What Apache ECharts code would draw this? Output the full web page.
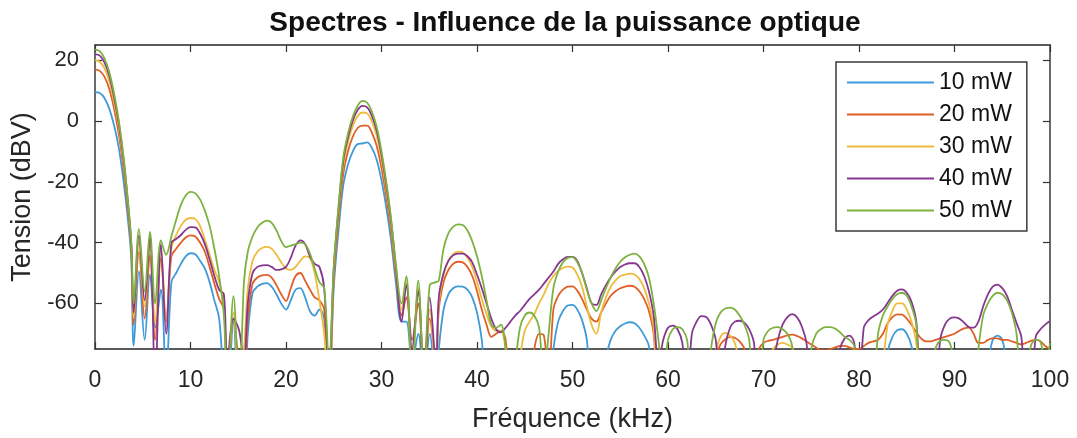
<!DOCTYPE html>
<html><head><meta charset="utf-8">
<script src="https://cdn.jsdelivr.net/npm/echarts@6/dist/echarts.min.js"></script>
<style>html,body{margin:0;padding:0;background:#fff}#c{width:1077px;height:438px}</style>
</head><body><div id="c"></div>
<script>
// Frequency grid (kHz)
const freq = [
 0,0.5,1,1.5,2,2.5,3,3.5,3.8,
 4.05,4.6,5.2,5.75,6.3,6.9,7.45,
 8,8.5,9,9.5,10,10.5,11,11.5,12,12.5,13,13.5,
 13.85,14.5,15.1,15.6,
 16,16.5,17,17.5,18,18.5,19,19.5,20,20.5,21,21.5,22,22.5,23,23.5,24,24.5,25,25.5,26,26.5,27,27.5,28,28.5,29,29.5,30,30.5,31,31.5,
 32.1,32.6,33.2,33.85,34.45,35.05,35.7,
 36,36.5,37,37.5,38,38.5,39,39.5,40,40.5,
 41,41.5,42,42.5,43,43.5,44,44.5,45,45.5,
 46,46.5,47,47.5,48,48.5,49,49.5,50,50.5,
 51,51.5,52,52.5,53,53.5,54,54.5,55,55.5,
 56,56.5,57,57.5,58,58.5,59,59.5,60,60.5,
 61,61.5,62,62.5,63,63.5,64,64.5,65,65.5,
 66,66.5,67,67.5,68,68.5,69,69.5,70,70.5,
 71,71.5,72,72.5,73,73.5,74,74.5,75,75.5,
 76,76.5,77,77.5,78,78.5,79,79.5,80,80.5,
 81,81.5,82,82.5,83,83.5,84,84.5,85,85.5,
 86,86.5,87,87.5,88,88.5,89,89.5,90,90.5,
 91,91.5,92,92.5,93,93.5,94,94.5,95,95.5,
 96,96.5,97,97.5,98,98.5,99,99.5,100
];
// Spectra (dBV); values below -75 fall outside the axis
const mw10 = [
 9.5,9.2,7.5,4,-1.5,-9,-20,-34,-45.3,
 -74,-49.4,-72,-50.5,-68,-55.5,-85,
 -53,-50,-47,-44.5,-43.5,-43.8,-46,-48.5,-53,-59,-65,-85,
 -90,-66,-90,-90,
 -70,-56.5,-54.5,-53.6,-53.3,-54.5,-57,-60,-62,-59,-55.5,-55,-58,-62.5,-64,-62,-65,-90,-54.7,-36,-21.1,-14.2,-10,-7.6,-7.4,-7,-8.9,-12.8,-19.5,-28.4,-39.3,-53,
 -66,-66,-80,-70,-85,-70,-85,
 -75,-62,-57,-55,-54.4,-54.5,-55.5,-58,-63,-72,
 -90,-90,-90,-90,-90,-90,-90,-90,-90,-90,
 -90,-90,-90,-90,-75,-66,-62.5,-60.7,-60.5,-62,
 -65.5,-72,-90,-90,-90,-78,-72,-69,-67.5,-66.6,
 -66.2,-66.5,-68,-70.5,-74,-90,-90,-90,-90,-90,
 -90,-90,-90,-90,-90,-90,-90,-90,-90,-90,
 -90,-90,-90,-90,-90,-90,-90,-90,-90,-90,
 -90,-90,-90,-90,-90,-90,-90,-90,-90,-90,
 -90,-90,-90,-90,-90,-90,-90,-90,-90,-90,
 -90,-90,-90,-90,-76,-71,-68.8,-68.5,-70,-74,
 -85,-90,-90,-90,-90,-90,-90,-90,-90,-90,
 -90,-90,-90,-90,-90,-80,-72,-70.6,-72,-80,
 -90,-90,-90,-90,-90,-90,-90,-90,-90
];
const mw20 = [
 17,16.5,14.5,10.5,4,-4.5,-16,-31,-42.4,
 -67,-42.9,-65,-44,-72,-45,-66,
 -44.5,-42,-40,-38.3,-37.6,-38,-40,-43,-48,-53.5,-58.5,-62,
 -85,-65,-80,-85,
 -65,-53.5,-51.5,-50.8,-50.6,-51.5,-54,-57,-59.2,-55,-51,-50,-52.5,-55.4,-58,-59,-62,-90,-51.9,-32.6,-17.3,-9.9,-5.1,-2.3,-1.5,-1.5,-3.9,-8.2,-15.5,-24.9,-36.2,-50.5,
 -64,-58,-72,-60,-85,-65,-80,
 -62,-53,-49,-47,-46.3,-46.5,-48,-51,-56,-62,
 -67,-71,-70,-69,-72,-90,-90,-90,-90,-85,
 -75,-70,-70.5,-85,-62,-57.5,-55.5,-54.5,-54.4,-55.8,
 -58.5,-62,-65,-66,-63,-60,-57.5,-56,-55,-54.5,
 -54.2,-54.5,-56,-58.5,-62.5,-70,-90,-90,-90,-90,
 -90,-90,-90,-90,-90,-90,-90,-90,-78,-73.5,
 -71.8,-71,-71.3,-72.5,-75,-90,-80,-75,-73,-72.3,
 -72,-71.5,-71,-70.5,-70.3,-70.7,-71.5,-72.5,-73.5,-74.5,
 -75.5,-75.5,-75,-74.5,-74,-74,-74.5,-75,-75,-74,
 -73,-72.5,-72,-70,-66.5,-64.5,-63.6,-63.7,-65,-67,
 -69.5,-71.5,-72.5,-72.5,-72,-71.5,-71,-70.5,-70,-69,
 -68.2,-68,-70,-73,-73,-72,-71.5,-71.5,-72,-72,
 -72.5,-73,-73.5,-73,-72.3,-72,-72.5,-74,-75
];
const mw30 = [
 20,19.5,17.3,13,6.3,-2.3,-14,-29.5,-41.3,
 -65,-39.7,-61,-40.2,-66,-42,-66,
 -42,-37.5,-34.5,-32.5,-31.9,-32.2,-34.5,-39,-44,-49,-53,-60,
 -85,-63,-85,-75,
 -55,-46,-43,-41.8,-41.4,-42,-44,-46.5,-48.5,-49,-48,-46,-44.5,-45,-50,-59,-70,-90,-49.8,-30.2,-14.5,-6.8,-1.6,1.6,2.8,2.5,-0.2,-4.9,-12.6,-22.3,-34,-48.6,
 -62,-53,-80,-55,-80,-62,-85,
 -60,-50.5,-46,-43.8,-43,-43.2,-45,-48,-53,-58.5,
 -63.5,-67.5,-69,-69,-75,-90,-90,-78,-69,-66,
 -63.5,-60,-57,-53.5,-51,-49.3,-48.3,-47.9,-48.2,-50.5,
 -54.5,-61,-67,-70,-63,-58,-54.5,-52.5,-51,-50.5,
 -50.2,-50.5,-52,-55,-60,-68,-90,-90,-90,-90,
 -90,-90,-90,-90,-90,-90,-90,-90,-76,-71,
 -69.7,-70.5,-73,-80,-90,-90,-90,-90,-90,-80,
 -75,-73.5,-73,-73.5,-74.5,-80,-90,-90,-90,-90,
 -90,-90,-90,-90,-90,-90,-90,-90,-90,-90,
 -90,-90,-90,-80,-67,-62.5,-60,-60,-62,-66,
 -73,-90,-90,-90,-90,-90,-90,-90,-90,-90,
 -90,-90,-90,-90,-90,-90,-90,-90,-90,-90,
 -90,-90,-90,-90,-90,-90,-90,-90,-90
];
const mw40 = [
 22,21.5,19.2,14.8,7.9,-1,-12.8,-28.6,-40.5,
 -63,-37.6,-59,-38.1,-85,-40.5,-70,
 -40,-38.8,-37.5,-35.8,-34.9,-35,-37,-40.5,-45.5,-51,-55.5,-57,
 -80,-65,-69,-80,
 -60,-50,-48,-47.5,-47.4,-48,-49,-48.8,-48,-45,-41,-39.3,-40.5,-44.5,-47,-48,-55,-85,-48.8,-28.9,-13,-5.2,0.2,3.6,5,4.5,1.6,-3.2,-11.1,-21,-32.8,-47.7,
 -66,-54,-75,-56,-85,-58,-80,
 -58,-50,-46,-44.2,-43.6,-43.6,-44.5,-46.5,-50.5,-55,
 -60,-65,-68.5,-69.5,-68,-66,-64,-62.5,-60.5,-58.5,
 -57,-55.5,-53.5,-51.5,-49.5,-47,-45.5,-44.7,-44.7,-46,
 -50,-55,-60,-60.5,-57,-54,-51.5,-49.5,-48,-47.2,
 -46.8,-46.8,-48,-51,-56,-64,-80,-72,-68,-67.3,
 -68.5,-73,-90,-70,-66,-64.2,-64.5,-67,-72,-90,
 -74,-68,-66,-65.7,-66.3,-68.5,-73,-90,-90,-90,
 -80,-72,-67,-64.5,-63.5,-64.5,-67.5,-73,-90,-90,
 -90,-90,-90,-85,-75,-71.5,-70.6,-73,-90,-68,
 -65.5,-64.3,-63.3,-62,-59.8,-57.5,-55.8,-55.4,-56.5,-59.5,
 -66,-90,-75,-90,-90,-72,-67,-65,-64.6,-65,
 -66.3,-67.8,-68,-66,-61,-57,-54.5,-53.8,-55,-57.5,
 -62,-66.5,-71,-90,-90,-71,-68.5,-67,-65.8
];
const mw50 = [
 23.5,23,20.5,16,9,0,-12,-28,-40,
 -60,-35.5,-56,-36.5,-60,-39.3,-44,
 -38,-32.5,-27.5,-24.5,-23.3,-23.8,-25.8,-29.5,-34.5,-42,-51,-64,
 -90,-57.6,-90,-53,
 -43,-38,-35,-33.5,-32.8,-33.5,-36,-39.5,-41.5,-41,-40.5,-40,-40.5,-43.5,-48.5,-53,-55,-80,-48,-28,-12,-4,1.5,5,6.6,6,3,-2,-10,-20,-32,-47,
 -60,-51,-85,-52.5,-85,-54,-53,
 -52.5,-42,-37,-34.8,-34,-34.2,-36,-39.5,-44.5,-51,
 -59,-67,-68,-67,-75,-90,-80,-68,-64,-63,
 -64,-68,-85,-70,-55,-49.5,-46.5,-45,-44.8,-46.5,
 -50,-55.5,-60,-62.5,-59,-55,-51.5,-48.5,-46.3,-44.8,
 -44,-43.6,-44.5,-47,-51.5,-60,-72,-85,-72,-68.5,
 -67.8,-68.5,-72,-90,-90,-90,-90,-75,-66.5,-63,
 -61.7,-61.4,-62,-64,-67,-72,-90,-90,-72,-69,
 -68,-67.8,-68.5,-70,-74,-90,-90,-90,-75,-70,
 -68.5,-67.8,-67.8,-68.3,-69.5,-71,-72,-74,-90,-90,
 -90,-88,-70,-64,-61,-58.5,-57,-56.5,-57.5,-61,
 -67,-90,-90,-85,-75,-72.3,-72,-73,-80,-90,
 -90,-90,-90,-75,-64,-60,-57.5,-56.5,-57,-59,
 -63,-70,-90,-85,-74,-72,-72.5,-80,-73
];
const seriesNames = ['10 mW','20 mW','30 mW','40 mW','50 mW'];
const seriesValues = [mw10, mw20, mw30, mw40, mw50];
const seriesColors = ['#3f9ad9','#df5f27','#efbb3c','#86378f','#7db241'];
const xTickValues = [0,10,20,30,40,50,60,70,80,90,100];
const yTickValues = [-60,-40,-20,0,20];

const FONT = "'Liberation Sans', Arial, sans-serif";
const axisColor = '#5a5a5a';
const textColor = '#262626';

function xAx(pos, withLabels){
  return {
    type:'value', min:0, max:100, interval:10, position:pos,
    axisLine:{show:true, onZero:false, lineStyle:{color:axisColor, width:1.8}},
    axisTick:{show:true, inside:true, length:7, lineStyle:{color:'#333', width:1.2}},
    axisLabel:{show:withLabels, fontSize:23, color:textColor, margin:20, fontFamily:FONT},
    splitLine:{show:false},
    name: withLabels ? 'Fréquence (kHz)' : '',
    nameLocation:'middle', nameGap:57,
    nameTextStyle:{fontSize:27, color:textColor, fontFamily:FONT}
  };
}
function yAx(pos, withLabels){
  return {
    type:'value', min:-75, max:25, position:pos,
    axisLine:{show:true, onZero:false, lineStyle:{color:axisColor, width:1.8}},
    axisTick:{show:true, inside:true, length:7, customValues:yTickValues, lineStyle:{color:'#333', width:1.2}},
    axisLabel:{show:withLabels, customValues:yTickValues, fontSize:22, color:textColor, margin:16, fontFamily:FONT},
    splitLine:{show:false},
    name: withLabels ? 'Tension (dBV)' : '',
    nameLocation:'middle', nameGap:53,
    nameTextStyle:{fontSize:27, color:textColor, fontFamily:FONT}
  };
}

const chart = echarts.init(document.getElementById('c'), null, {renderer:'canvas'});
chart.setOption({
  animation:false,
  backgroundColor:'#fff',
  textStyle:{fontFamily:FONT},
  title:{
    text:'Spectres - Influence de la puissance optique',
    left:565, textAlign:'center', top:9, padding:0,
    textStyle:{fontSize:28, fontWeight:'bold', color:'#111', fontFamily:FONT}
  },
  grid:{left:95, right:27, top:45, bottom:84, containLabel:false},
  xAxis:[xAx('bottom', true), xAx('top', false)],
  yAxis:[yAx('left', true), yAx('right', false)],
  legend:{
    orient:'vertical', left:836, top:62,
    icon:'rect', itemWidth:87, itemHeight:2, itemGap:9,
    padding:[9,15,9,11],
    borderColor:'#3a3a3a', borderWidth:1.5, backgroundColor:'#fff',
    textStyle:{fontSize:23, color:'#111', fontFamily:FONT},
    data:seriesNames
  },
  series: seriesNames.map((n,i)=>({
    name:n, type:'line', xAxisIndex:0, yAxisIndex:0,
    data: freq.map((f,k)=>[f, seriesValues[i][k]]),
    showSymbol:false, symbol:'none', smooth:0.35, clip:true,
    lineStyle:{color:seriesColors[i], width:1.8},
    itemStyle:{color:seriesColors[i]},
    z: 2+i
  }))
});
</script>
</body></html>
